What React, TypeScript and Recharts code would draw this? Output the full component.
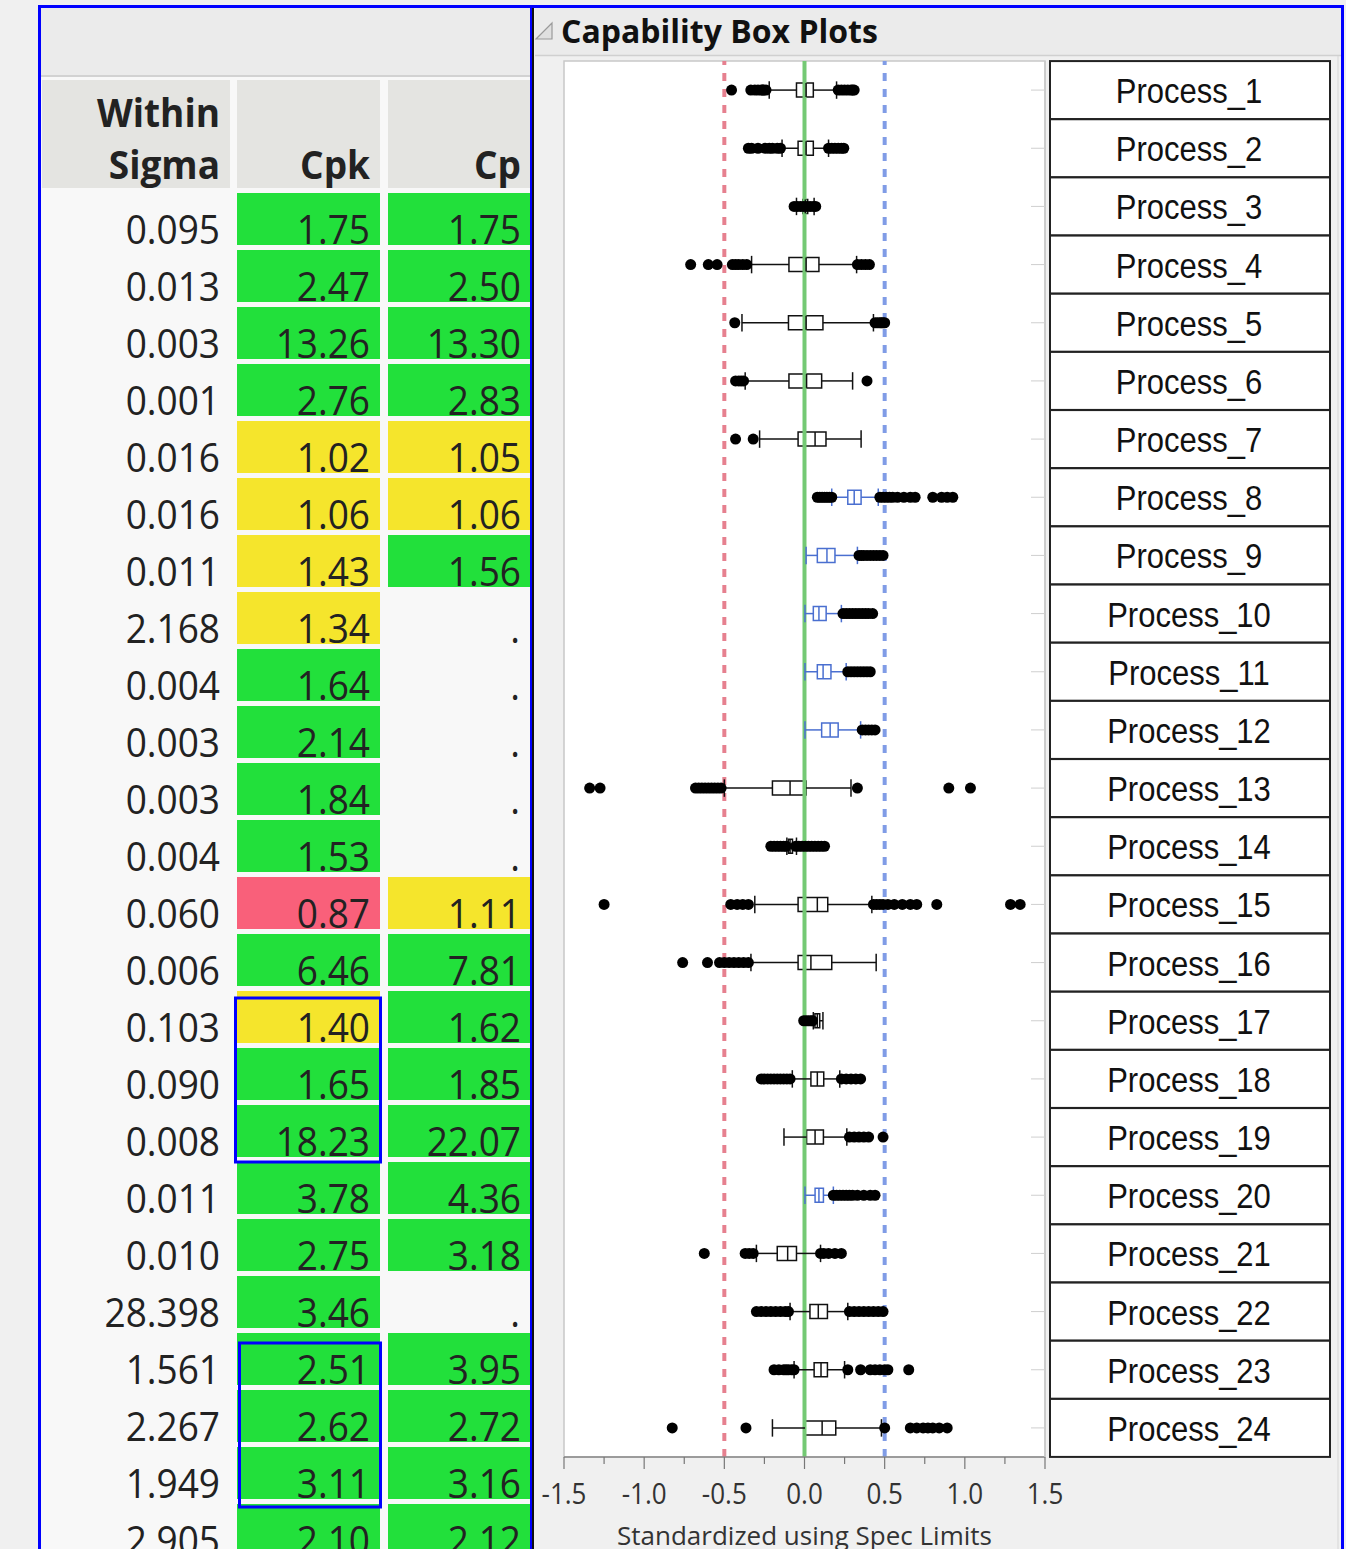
import React from 'react';
import { ComposedChart, XAxis, YAxis, Scatter, ReferenceLine, ReferenceArea } from 'recharts';

// ---------------- data ----------------
const processNames = [
  'Process_1', 'Process_2', 'Process_3', 'Process_4', 'Process_5', 'Process_6',
  'Process_7', 'Process_8', 'Process_9', 'Process_10', 'Process_11', 'Process_12',
  'Process_13', 'Process_14', 'Process_15', 'Process_16', 'Process_17', 'Process_18',
  'Process_19', 'Process_20', 'Process_21', 'Process_22', 'Process_23', 'Process_24',
];

const withinSigma = [
  '0.095', '0.013', '0.003', '0.001', '0.016', '0.016', '0.011', '2.168',
  '0.004', '0.003', '0.003', '0.004', '0.060', '0.006', '0.103', '0.090',
  '0.008', '0.011', '0.010', '28.398', '1.561', '2.267', '1.949', '2.905',
];

const cpkValues = [
  1.75, 2.47, 13.26, 2.76, 1.02, 1.06, 1.43, 1.34, 1.64, 2.14, 1.84, 1.53,
  0.87, 6.46, 1.40, 1.65, 18.23, 3.78, 2.75, 3.46, 2.51, 2.62, 3.11, 2.10,
];

const cpValues: (number | null)[] = [
  1.75, 2.50, 13.30, 2.83, 1.05, 1.06, 1.56, null, null, null, null, null,
  1.11, 7.81, 1.62, 1.85, 22.07, 4.36, 3.18, null, 3.95, 2.72, 3.16, 2.12,
];

const whiskerLow = [
  -0.22, -0.14, -0.05, -0.33, -0.39, -0.37, -0.28, 0.17, 0.01, 0.003, 0.003, 0.003,
  -0.50, -0.11, -0.31, -0.334, 0.055, -0.076, -0.128, 0.003, -0.30, -0.09, -0.065, -0.20,
];
const boxQ1 = [
  -0.05, -0.04, -0.01, -0.097, -0.10, -0.097, -0.04, 0.27, 0.08, 0.055, 0.08, 0.107,
  -0.20, -0.10, -0.04, -0.04, 0.065, 0.04, 0.013, 0.066, -0.17, 0.034, 0.06, 0.003,
];
const boxMedian = [
  0.01, 0.01, 0.005, 0.01, 0.01, 0.013, 0.066, 0.31, 0.14, 0.09, 0.116, 0.16,
  -0.09, -0.09, 0.08, 0.04, 0.08, 0.08, 0.066, 0.09, -0.105, 0.086, 0.103, 0.11,
];
const boxQ3 = [
  0.055, 0.055, 0.02, 0.09, 0.115, 0.107, 0.134, 0.353, 0.19, 0.135, 0.165, 0.21,
  0.01, -0.075, 0.145, 0.17, 0.095, 0.12, 0.118, 0.118, -0.05, 0.143, 0.143, 0.195,
];
const whiskerHigh = [
  0.20, 0.15, 0.06, 0.325, 0.43, 0.30, 0.353, 0.46, 0.33, 0.23, 0.26, 0.35,
  0.29, -0.05, 0.42, 0.447, 0.115, 0.22, 0.264, 0.18, 0.10, 0.27, 0.25, 0.48,
];

const outlierValues: number[][] = [
  [-0.455, -0.335, -0.31, -0.29, -0.27, -0.255, -0.24, -0.26, 0.21, 0.23, 0.25, 0.27, 0.29, 0.30, 0.31],
  [-0.35, -0.33, -0.29, -0.245, -0.22, -0.20, -0.17, -0.15, 0.15, 0.17, 0.19, 0.21, 0.23, 0.245],
  [-0.065, -0.045, -0.025, -0.005, 0.015, 0.035, 0.055, 0.07],
  [-0.71, -0.60, -0.545, -0.45, -0.43, -0.41, -0.385, -0.36, 0.33, 0.355, 0.38, 0.405],
  [-0.435, 0.44, 0.455, 0.47, 0.48, 0.49, 0.50],
  [-0.43, -0.41, -0.395, -0.38, 0.39],
  [-0.43, -0.32],
  [0.08, 0.095, 0.11, 0.125, 0.14, 0.155, 0.17, 0.47, 0.49, 0.51, 0.53, 0.55, 0.58, 0.62, 0.66, 0.69, 0.80, 0.855, 0.89, 0.925],
  [0.34, 0.355, 0.37, 0.39, 0.41, 0.43, 0.45, 0.47, 0.49],
  [0.24, 0.26, 0.28, 0.30, 0.32, 0.34, 0.36, 0.38, 0.40, 0.425],
  [0.27, 0.29, 0.31, 0.33, 0.35, 0.37, 0.39, 0.41],
  [0.36, 0.38, 0.40, 0.42, 0.44],
  [-1.34, -1.275, -0.68, -0.66, -0.64, -0.62, -0.60, -0.58, -0.56, -0.54, -0.52, 0.33, 0.90, 1.035],
  [-0.21, -0.19, -0.17, -0.15, -0.13, -0.115, -0.055, -0.035, -0.015, 0.005, 0.025, 0.045, 0.065, 0.085, 0.105, 0.125],
  [-1.25, -0.46, -0.42, -0.385, -0.35, 0.43, 0.45, 0.47, 0.49, 0.52, 0.56, 0.61, 0.66, 0.70, 0.825, 1.285, 1.345],
  [-0.76, -0.605, -0.53, -0.50, -0.47, -0.44, -0.41, -0.38, -0.35],
  [-0.005, 0.01, 0.025, 0.04, 0.05],
  [-0.27, -0.25, -0.23, -0.21, -0.19, -0.17, -0.15, -0.13, -0.11, -0.09, 0.23, 0.26, 0.29, 0.32, 0.35],
  [0.28, 0.31, 0.34, 0.37, 0.40, 0.49],
  [0.18, 0.20, 0.22, 0.24, 0.26, 0.28, 0.30, 0.33, 0.37, 0.41, 0.44],
  [-0.625, -0.37, -0.345, -0.32, 0.10, 0.12, 0.15, 0.19, 0.23],
  [-0.30, -0.27, -0.24, -0.21, -0.18, -0.15, -0.12, -0.10, 0.28, 0.31, 0.34, 0.37, 0.40, 0.43, 0.46, 0.49],
  [-0.19, -0.16, -0.13, -0.115, -0.10, -0.08, -0.065, 0.27, 0.35, 0.41, 0.44, 0.47, 0.50, 0.52, 0.65],
  [-0.825, -0.365, 0.50, 0.66, 0.70, 0.74, 0.77, 0.80, 0.84, 0.89],
];

// processes whose box is drawn in blue
const blueProcesses = [8, 9, 10, 11, 12, 20];

const specLower = -0.5;
const specTarget = 0;
const specUpper = 0.5;

const xTicks = [-1.5, -1.25, -1.0, -0.75, -0.5, -0.25, 0, 0.25, 0.5, 0.75, 1.0, 1.25, 1.5];
const yTicks = processNames.map((_, i) => i + 1);

// ---------------- styles ----------------
const GREEN = '#22e03b';
const YELLOW = '#f5e52c';
const RED = '#f9607a';
const BLUE_BOX = '#4a6fd0';
const NUM_FONT = '"Open Sans", "DejaVu Sans", sans-serif';

const ROW_TOP = 193;
const ROW_PITCH = 57;
const CELL_H = 52;

const cellColor = (v: number) => (v < 1 ? RED : v < 1.5 ? YELLOW : GREEN);

const points = outlierValues.flatMap((arr, i) => arr.map((v) => ({ x: v, y: i + 1 })));

const XTick = (props: any) => {
  const { x, y, payload } = props;
  const v = payload.value as number;
  const major = Math.abs(v * 2 - Math.round(v * 2)) < 1e-6;
  return (
    <g>
      <line x1={x} x2={x} y1={y} y2={y + (major ? 12 : 7)} stroke="#777" strokeWidth={1.2} />
      {major && (
        <text
          transform={`translate(${x},${y + 47}) scale(1,1.1)`}
          textAnchor="middle"
          fontFamily={NUM_FONT}
          fontSize={26}
          fill="#333"
        >
          {v.toFixed(1)}
        </text>
      )}
    </g>
  );
};

const YTick = (props: any) => {
  const { x, y, payload } = props;
  const name = processNames[(payload.value as number) - 1];
  return (
    <g>
      <line x1={x - 14} x2={x} y1={y} y2={y} stroke="#cfcfcf" strokeWidth={1} />
      <rect x={x + 5} y={y - 29} width={280} height={58} fill="#fff" stroke="#222" strokeWidth={2} />
      <text
        transform={`translate(${x + 144},${y + 13}) scale(1,1.14)`}
        textAnchor="middle"
        fontFamily='"Liberation Sans", Arial, sans-serif'
        fontSize={31}
        fill="#111"
      >
        {name}
      </text>
    </g>
  );
};

const Dot = (p: any) => <circle cx={p.cx} cy={p.cy} r={5.5} fill="#000" />;

const TableText = ({ x, y, children, bold, size }: any) => (
  <text
    transform={`translate(${x},${y}) scale(1,1.07)`}
    textAnchor="end"
    fontFamily={NUM_FONT}
    fontWeight={bold ? 700 : 400}
    fontSize={size || 37}
    fill="#222"
  >
    {children}
  </text>
);

export default function App() {
  const boxEls: React.ReactNode[] = [];
  processNames.forEach((_, i) => {
    const y = i + 1;
    const c = blueProcesses.includes(y) ? BLUE_BOX : '#111';
    const sw = 1.5;
    boxEls.push(
      <ReferenceLine key={`wl${i}`} segment={[{ x: whiskerLow[i], y }, { x: boxQ1[i], y }]} stroke={c} strokeWidth={sw} />,
      <ReferenceLine key={`wh${i}`} segment={[{ x: boxQ3[i], y }, { x: whiskerHigh[i], y }]} stroke={c} strokeWidth={sw} />,
      <ReferenceLine key={`cl${i}`} segment={[{ x: whiskerLow[i], y: y - 0.15 }, { x: whiskerLow[i], y: y + 0.15 }]} stroke={c} strokeWidth={sw} />,
      <ReferenceLine key={`ch${i}`} segment={[{ x: whiskerHigh[i], y: y - 0.15 }, { x: whiskerHigh[i], y: y + 0.15 }]} stroke={c} strokeWidth={sw} />,
      <ReferenceArea key={`bx${i}`} x1={boxQ1[i]} x2={boxQ3[i]} y1={y - 0.12} y2={y + 0.12} fill="#fff" fillOpacity={0} stroke={c} strokeWidth={sw} strokeOpacity={1} />,
      <ReferenceLine key={`md${i}`} segment={[{ x: boxMedian[i], y: y - 0.12 }, { x: boxMedian[i], y: y + 0.12 }]} stroke={c} strokeWidth={sw} />,
    );
  });

  const cellTop = (k: number) => ROW_TOP + ROW_PITCH * k;

  return (
    <div style={{ position: 'absolute', left: 0, top: 0, width: 1346, height: 1549, background: '#f0f0f0', overflow: 'hidden' }}>
      <svg width={1346} height={1549} style={{ position: 'absolute', left: 0, top: 0 }}>
        {/* left panel */}
        <rect x={41} y={8} width={490} height={1541} fill="#f8f8f8" />
        <rect x={41} y={8} width={490} height={67} fill="#ebebeb" />
        <line x1={41} x2={531} y1={76} y2={76} stroke="#d2d2d2" strokeWidth={2} />
        {/* header cells */}
        <rect x={42} y={80} width={188} height={108} fill="#e4e4e1" />
        <rect x={237} y={80} width={143} height={108} fill="#e4e4e1" />
        <rect x={388} y={80} width={142} height={108} fill="#e4e4e1" />
        <TableText x={220} y={127} bold size={37}>Within</TableText>
        <TableText x={220} y={179} bold size={37}>Sigma</TableText>
        <TableText x={370} y={179} bold size={37}>Cpk</TableText>
        <TableText x={521} y={179} bold size={37}>Cp</TableText>
        {withinSigma.map((s, k) => {
          const top = cellTop(k);
          const base = top + CELL_H - 1;
          const cp = cpValues[k];
          return (
            <g key={`r${k}`}>
              <rect x={237} y={top} width={143} height={CELL_H} fill={cellColor(cpkValues[k])} />
              {cp !== null && <rect x={388} y={top} width={142} height={CELL_H} fill={cellColor(cp)} />}
              <TableText x={220} y={base}>{s}</TableText>
              <TableText x={370} y={base}>{cpkValues[k].toFixed(2)}</TableText>
              <TableText x={cp !== null ? 521 : 520} y={base}>{cp !== null ? cp.toFixed(2) : '.'}</TableText>
            </g>
          );
        })}
        {/* highlight boxes */}
        <rect x={235.5} y={cellTop(14) + 7} width={145} height={cellTop(17) - cellTop(14) - 7} fill="none" stroke="#0000ff" strokeWidth={3} />
        <rect x={239.5} y={cellTop(20) + 10} width={141} height={cellTop(23) - cellTop(20) - 7} fill="none" stroke="#0000ff" strokeWidth={3} />

        {/* right panel */}
        <rect x={535} y={8} width={806} height={47} fill="#ebebeb" />
        <line x1={535} x2={1341} y1={55.5} y2={55.5} stroke="#d0d0d0" strokeWidth={1.5} />
        <polygon points="552,23 552,39 536,39" fill="#e0e0e0" stroke="#9a9a9a" strokeWidth={1.2} />
        <text x={561} y={43} fontFamily={NUM_FONT} fontWeight={700} fontSize={32} fill="#111">Capability Box Plots</text>
        <rect x={564} y={61} width={481} height={1396} fill="#ffffff" stroke="#c8c8c8" strokeWidth={1.5} />
        <line x1={1338} x2={1338} y1={56} y2={1549} stroke="#d6d6d6" strokeWidth={1} />

        {/* frames */}
        <line x1={532.5} x2={532.5} y1={8} y2={1549} stroke="#111" strokeWidth={3} />
        <rect x={38} y={5} width={1306} height={3} fill="#0000ff" />
        <rect x={38} y={5} width={3} height={1544} fill="#0000ff" />
        <rect x={1341} y={5} width={3} height={1544} fill="#0000ff" />
        <rect x={530} y={5} width={2} height={1544} fill="#0000ff" />
      </svg>

      <div style={{ position: 'absolute', left: 534, top: 0 }}>
        <ComposedChart width={812} height={1549} margin={{ top: 61, right: 11, bottom: 0, left: 30 }}>
          <XAxis
            type="number"
            dataKey="x"
            domain={[-1.5, 1.5]}
            ticks={xTicks}
            interval={0}
            allowDataOverflow
            tickSize={0}
            tickMargin={0}
            tick={<XTick />}
            axisLine={{ stroke: '#888', strokeWidth: 1.5 }}
            height={92}
            label={{ value: 'Standardized using Spec Limits', position: 'insideBottom', offset: 4, fill: '#333', fontSize: 26, fontFamily: NUM_FONT }}
          />
          <YAxis
            type="number"
            dataKey="y"
            orientation="right"
            domain={[0.5, 24.5]}
            reversed
            ticks={yTicks}
            interval={0}
            allowDataOverflow
            tickSize={0}
            tickMargin={0}
            width={290}
            tick={<YTick />}
            axisLine={{ stroke: '#c8c8c8', strokeWidth: 1.5 }}
          />
          <ReferenceLine x={specTarget} stroke="#74c974" strokeWidth={4} />
          <ReferenceLine x={specLower} stroke="#e6808f" strokeWidth={4} strokeDasharray="8 8" />
          <ReferenceLine x={specUpper} stroke="#809ce6" strokeWidth={4} strokeDasharray="8 8" />
          {boxEls}
          <Scatter data={points} isAnimationActive={false} shape={Dot} />
        </ComposedChart>
      </div>
    </div>
  );
}
